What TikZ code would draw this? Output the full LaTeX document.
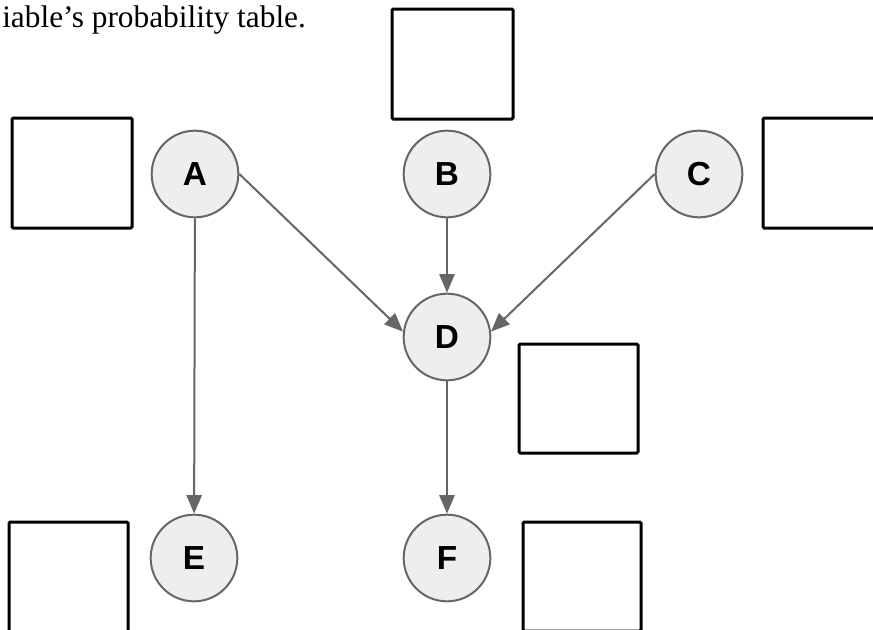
\documentclass[tikz,border=0pt]{standalone}
\usepackage{fontspec}
\setmainfont{Liberation Serif}
\newfontfamily\varfont{Liberation Sans}
\usetikzlibrary{arrows.meta}
\definecolor{edgegray}{HTML}{666666}
\definecolor{varfill}{HTML}{EEEEEE}

\begin{document}
\begin{tikzpicture}[x=0.75pt, y=-0.75pt,
	var/.style={circle, draw=edgegray, line width=1.5pt, fill=varfill, minimum size=65pt, inner sep=0pt, font=\varfont\bfseries\fontsize{25}{25}\selectfont},
	dep/.style={draw=edgegray, line width=1.5pt, -{Triangle[length=14pt, width=11.5pt]}},
	cpt/.style={draw=black, line width=2.25pt, rounded corners=1pt}]
	\useasboundingbox (0,0) rectangle (873,629);
	\clip (0,0) rectangle (873,629);
	% caption, cut at the left
	\node[anchor=base west, inner sep=0pt, font=\fontsize{23.5}{23.5}\selectfont] (cap) at (2,27) {iable’s probability table.};
	% variables
	\foreach \name/\x/\y in {A/195/174, B/447/174, C/699/174, D/447/337, E/194/558, F/447/558}
		\node[var] (\name) at (\x,\y) {\name};
	% dependencies
	\foreach \from/\to in {A.east/D.173, B/D, C.west/D.7, A/E, D/F}
		\draw[dep] (\from) -- (\to);
	% empty tables
	\draw[cpt] (392,9) rectangle (513,119);
	\draw[cpt] (12,118) rectangle (132,228);
	\draw[cpt] (763,118) rectangle (900,228);
	\draw[cpt] (519,344) rectangle (638,453);
	\draw[cpt] (9,522) rectangle (128,660);
	\draw[cpt] (523,522) rectangle (641,631);
\end{tikzpicture}
\end{document}
